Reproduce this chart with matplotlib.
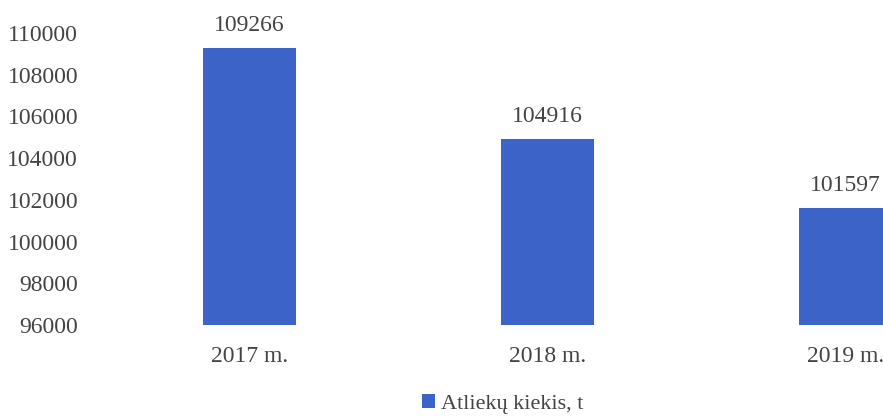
import matplotlib
matplotlib.use("Agg")
import matplotlib.pyplot as plt
from matplotlib.patches import Patch

categories = ["2017 m.", "2018 m.", "2019 m."]
values = [109266, 104916, 101597]
yticks = [96000, 98000, 100000, 102000, 104000, 106000, 108000, 110000]
series_name = "Atliekų kiekis, t"

bar_color = "#3C64C8"
text_color = "#444444"
plt.rcParams["font.family"] = ["Liberation Serif", "DejaVu Serif"]

W, H = 883, 416
fig = plt.figure(figsize=(W / 100, H / 100), dpi=100)
left_px, right_px, top_px, bottom_px = 92, 883, 33, 325
ax = fig.add_axes([left_px / W, 1 - bottom_px / H,
                   (right_px - left_px) / W, (bottom_px - top_px) / H])

x = list(range(len(categories)))
bars = ax.bar(x, [v - yticks[0] for v in values], bottom=yticks[0],
              width=0.312, color=bar_color, clip_on=True)

step = 298.0
x0 = 249.5
ax.set_xlim((left_px - x0) / step, (right_px - x0) / step)
ax.set_ylim(yticks[0], yticks[-1])
ax.set_yticks(yticks)
ax.set_yticklabels([str(t) for t in yticks], fontsize=17, color=text_color)
ax.set_xticks(x)
ax.set_xticklabels(categories, fontsize=17, color=text_color)
ax.tick_params(axis="both", length=0)
ax.tick_params(axis="x", pad=15)
ax.tick_params(axis="y", pad=10)
for s in ax.spines.values():
    s.set_visible(False)

for xi, v in zip(x, values):
    ax.annotate(str(v), (xi, v), xytext=(0, 9), textcoords="offset points",
                ha="center", va="bottom", fontsize=17, color=text_color,
                annotation_clip=False)

handle = Patch(facecolor=bar_color, edgecolor="none", label=series_name)
fig.legend(handles=[handle], loc="center", bbox_to_anchor=(503 / W, 1 - 404 / H),
           frameon=False, fontsize=16, handlelength=0.55, handleheight=0.55,
           handletextpad=0.3, labelcolor=text_color)

fig.savefig("out.png", dpi=100)
